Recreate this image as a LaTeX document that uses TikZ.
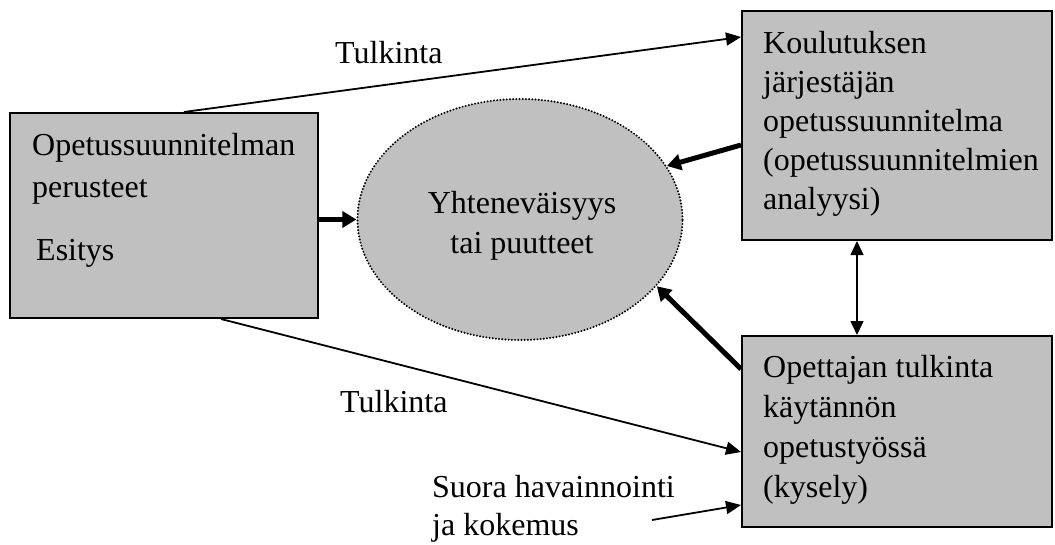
\documentclass[tikz,border=0pt]{standalone}
\usepackage{fontspec}
\setmainfont{Liberation Serif}
\usetikzlibrary{arrows.meta,shapes.geometric,calc}
\definecolor{boxgray}{RGB}{192,192,192}
\begin{document}
\begin{tikzpicture}[x=1pt,y=-1pt,
  box/.style={draw=black,fill=boxgray,line width=2pt,rectangle,inner sep=0pt},
  txt/.style={inner sep=0pt,anchor=base west,align=left},
  thin/.style={line width=1.8pt,-{Triangle[length=15pt,width=13pt]}},
  thick/.style={line width=5pt,-{Triangle[length=14pt,width=16pt]}},
  both/.style={line width=1.5pt,{Triangle[length=14pt,width=13pt]}-{Triangle[length=14pt,width=13pt]}}]
\useasboundingbox (0,0) rectangle (1055,544);

% boxes and the central ellipse
\node[box,minimum width=308pt,minimum height=205pt] (L) at (164,215.5) {};
\node[box,minimum width=310pt,minimum height=229pt] (K) at (897,125.5) {};
\node[box,minimum width=310pt,minimum height=191pt] (O) at (897,431.5) {};
\node[ellipse,fill=boxgray,draw=black,line width=2.2pt,line cap=round,
      dash pattern=on 0pt off 3.2pt,inner sep=0pt,
      minimum width=325pt,minimum height=241pt] (E) at (520,219.5) {};

% texts (multi-line nodes are anchored at the baseline of their last line)
\node[txt,font=\fontsize{32}{42}\selectfont] (Lt) at (32,197) {Opetussuunnitelman\\perusteet};
\node[txt,font=\fontsize{32}{42}\selectfont] (Le) at (36,260) {Esitys};
\node[txt,font=\fontsize{32}{39}\selectfont] (Kt) at (763,209)
  {Koulutuksen\\järjestäjän\\opetussuunnitelma\\(opetussuunnitelmien\\analyysi)};
\node[txt,font=\fontsize{32}{40}\selectfont] (Ot) at (763,497)
  {Opettajan tulkinta\\käytännön\\opetustyössä\\(kysely)};
\node[inner sep=0pt,anchor=base,align=center,font=\fontsize{32}{40}\selectfont] (Et) at (522,253)
  {Yhteneväisyys\\tai puutteet};
\node[txt,font=\fontsize{32}{40}\selectfont] (T1) at (335,63) {Tulkinta};
\node[txt,font=\fontsize{32}{40}\selectfont] (T2) at (340,412) {Tulkinta};
\node[txt,font=\fontsize{32}{38}\selectfont] (S) at (432,535) {Suora havainnointi\\ja kokemus};

% connectors
\coordinate (sTail) at (652,520);
\draw[thin] ([xshift=175pt]L.north west) -- ([yshift=-27pt]K.north west);
\draw[thin] ([xshift=212pt]L.south west) -- ([yshift=-20.5pt]O.west);
\draw[thin] (sTail) -- ([yshift=-73.5pt]O.west);
\draw[both] ([xshift=-40pt]K.south) -- ([xshift=-40pt]O.north);
\draw[thick] (L.east |- E.west) -- (E.west);
\draw[thick] ([yshift=-19.5pt]K.west) -- (E.20.6);
\draw[thick] ([yshift=62.5pt]O.west) -- (E.-26.6);
\end{tikzpicture}
\end{document}
